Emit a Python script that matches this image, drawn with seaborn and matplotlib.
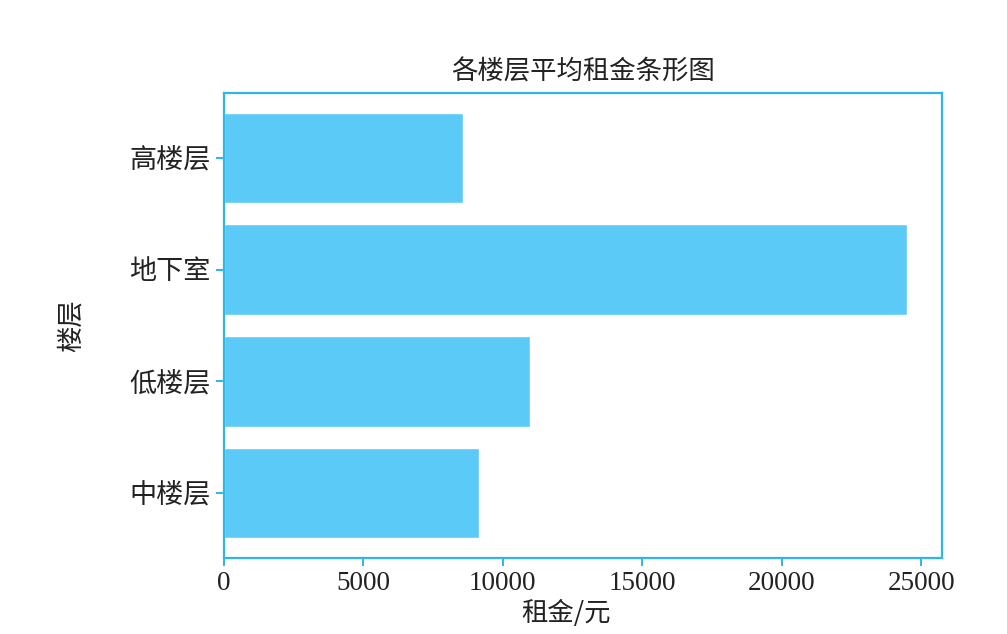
import seaborn as sns
import matplotlib.pyplot as plt
import pandas as pd

floors = ["高楼层", "地下室", "低楼层", "中楼层"]
rent = [8570, 24500, 10980, 9150]

sns.set_theme(style="white")
plt.rcParams['font.family'] = ['Liberation Serif', 'Noto Sans CJK SC', 'DejaVu Sans']
plt.rcParams['axes.unicode_minus'] = False

df = pd.DataFrame({"floor": floors, "rent": rent})

edge = "#2bb7ea"
fig = plt.figure(figsize=(10.07, 6.34), dpi=100)
ax = fig.add_axes([0.2224, 0.12, 0.7131, 0.7333])

sns.barplot(data=df, x="rent", y="floor", orient="h", color="#5ccaf6",
            saturation=1, width=0.81, ax=ax)
ax.set_ylim(3.58, -0.58)
ax.set_xlim(0, 25750)
ax.set_xticks([0, 5000, 10000, 15000, 20000, 25000])

for s in ax.spines.values():
    s.set_color(edge)
    s.set_linewidth(1.6)
ax.tick_params(axis="both", which="major", length=6, width=1.4, color=edge,
               labelsize=19.5, labelcolor="#222222", bottom=True, left=True)

ax.set_title("各楼层平均租金条形图", fontsize=19, color="#222222",
             family=['Noto Sans CJK SC'], pad=10)
ax.set_xlabel("租金/元", fontsize=19, color="#222222",
              family=['Noto Sans CJK SC', 'DejaVu Sans'], labelpad=3, x=0.477)
ax.set_ylabel("楼层", fontsize=19, color="#222222",
              family=['Noto Sans CJK SC'], labelpad=32)

fig.savefig("out.png", dpi=100)
